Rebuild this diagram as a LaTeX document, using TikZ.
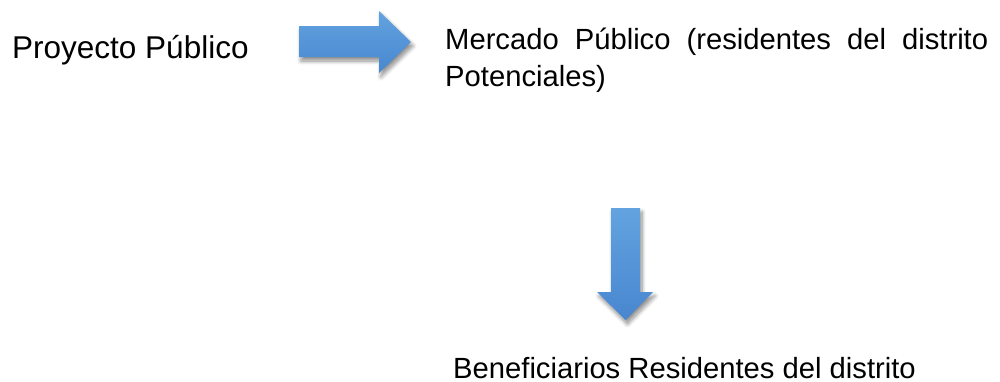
\documentclass[tikz,border=0pt]{standalone}
\usepackage{fontspec}
\setmainfont{Liberation Sans}
\usetikzlibrary{shadows.blur}
\definecolor{arrowtop}{HTML}{62A3E0}
\definecolor{arrowbot}{HTML}{4887CF}
\tikzset{
  blockarrow/.style={top color=arrowtop, bottom color=arrowbot, draw=none,
    blur shadow={shadow xshift=2pt, shadow yshift=-4pt, shadow blur steps=8, shadow opacity=45, shadow blur radius=4pt}},
  lbl/.style={inner sep=0pt, anchor=base west, text=black}
}
\begin{document}
\begin{tikzpicture}[x=1pt,y=-1pt]
\useasboundingbox (0,0) rectangle (1000,381);
\node[lbl, font=\fontsize{31.5}{36}\selectfont] (proy) at (12,58) {Proyecto Público};
\node[lbl, font=\fontsize{29.2}{36}\selectfont] (merc1) at (445,49) {\makebox[543pt][s]{Mercado Público (residentes del distrito}};
\node[lbl, font=\fontsize{29.2}{36}\selectfont] (merc2) at (445,86) {Potenciales)};
\node[lbl, font=\fontsize{29.2}{36}\selectfont] (benef) at (453,378) {Beneficiarios Residentes del distrito};
\draw[blockarrow] (299,26) -- (379,26) -- (379,11) -- (411,42) -- (379,73) -- (379,57) -- (299,57) -- cycle;
\draw[blockarrow] (611,208) -- (640,208) -- (640,292) -- (653,292) -- (625.5,320) -- (597,292) -- (611,292) -- cycle;
\end{tikzpicture}
\end{document}
